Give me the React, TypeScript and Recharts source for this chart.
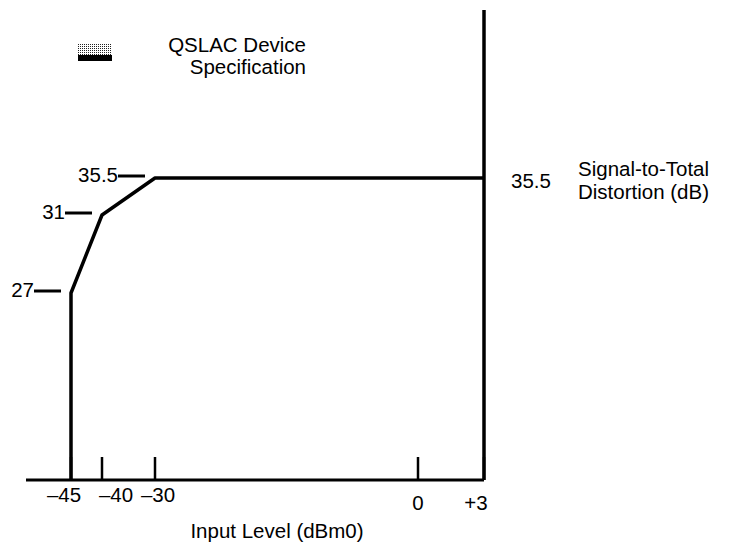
import React from "react"
import { LineChart, Line, XAxis, YAxis, Legend, LabelList } from "recharts"

// input level ticks (dBm0)
const LEVEL_TICKS = [-45, -40, -30, 0, 3]
const LEVEL_TICK_LABELS = ["\u201345", "\u201340", "\u201330", "0", "+3"]

// spec mask: input level vs signal-to-total distortion; the first point drops to the floor
const SPEC_LEVELS = [-45, -45, -40, -30, 3]
const SPEC_STD = [0, 27, 31, 35.5, 35.5]
const STD_TICKS = [35.5]

const LEGEND_LINES = ["QSLAC Device", "Specification"]
const Y_TITLE_LINES = ["Signal-to-Total", "Distortion (dB)"]
const X_TITLE = "Input Level (dBm0)"

// the drawing is not to scale: both axes are piecewise linear between stops
const LEVEL_STOPS = [-45, -40, -30, 0, 3]
const LEVEL_GAPS = [31, 53, 263, 66]
const LEVEL_PAD_LEFT = 45
const STD_STOPS = [0, 27, 31, 35.5]
const STD_GAPS = [187, 78, 37]
const STD_AXIS_TOP = 470

const FONT = '"Liberation Sans", Arial, Helvetica, sans-serif'
const FS = 20.5
const INK = "#000"

function makeWarp(stops: number[], gaps: number[]) {
  const pos = [0]
  gaps.forEach((g, i) => pos.push(pos[i] + g))
  return (v: number) => {
    let i = 0
    while (i < stops.length - 2 && v > stops[i + 1]) i++
    const t = (v - stops[i]) / (stops[i + 1] - stops[i])
    return pos[i] + t * (pos[i + 1] - pos[i])
  }
}

const warpLevel = makeWarp(LEVEL_STOPS, LEVEL_GAPS)
const warpStd = makeWarp(STD_STOPS, STD_GAPS)

const data = SPEC_LEVELS.map((level, i) => ({
  level,
  std: SPEC_STD[i],
  x: warpLevel(level),
  y: warpStd(SPEC_STD[i]),
}))

// label nudges under the x axis [dx, dy]
const TICK_NUDGE = [
  [-7, 22],
  [14, 22],
  [3, 22],
  [0, 30],
  [-8, 30],
]

function XTick(props: any) {
  const { x, y, index } = props
  const [dx, dy] = TICK_NUDGE[index] || [0, 22]
  return (
    <g>
      <line x1={x} x2={x} y1={y} y2={y - 23} stroke={INK} strokeWidth={2.5} />
      <text x={x + dx} y={y + dy} textAnchor="middle" fontFamily={FONT} fontSize={FS} fill={INK}>
        {LEVEL_TICK_LABELS[index]}
      </text>
    </g>
  )
}

function YTick(props: any) {
  const { x, y } = props
  return (
    <g>
      <text x={x + 27} y={y + 10} fontFamily={FONT} fontSize={FS} fill={INK}>
        35.5
      </text>
      <text x={x + 94} y={y - 2} fontFamily={FONT} fontSize={FS} fill={INK}>
        {Y_TITLE_LINES[0]}
      </text>
      <text x={x + 94} y={y + 21} fontFamily={FONT} fontSize={FS} fill={INK}>
        {Y_TITLE_LINES[1]}
      </text>
    </g>
  )
}

function PointLabel(props: any) {
  const { x, y, index, value } = props
  if (index === 0 || index === data.length - 1) return null
  return (
    <g>
      <line x1={x - 37} x2={x - 10} y1={y - 2} y2={y - 2} stroke={INK} strokeWidth={3} />
      <text x={x - 37} y={y + 4} textAnchor="end" fontFamily={FONT} fontSize={FS} fill={INK}>
        {value}
      </text>
    </g>
  )
}

function XTitle(props: any) {
  const { viewBox } = props
  return (
    <text
      x={viewBox.x + viewBox.width / 2 + 22}
      y={viewBox.y + 58}
      textAnchor="middle"
      fontFamily={FONT}
      fontSize={FS}
      fill={INK}
    >
      {X_TITLE}
    </text>
  )
}

function SpecLegend() {
  return (
    <svg width={330} height={80}>
      <defs>
        <pattern id="specDots" width={2} height={2} patternUnits="userSpaceOnUse">
          <rect width={1} height={1} fill="#222" />
        </pattern>
      </defs>
      <rect x={78} y={44} width={34} height={11} fill="url(#specDots)" />
      <rect x={78} y={55} width={34} height={6} fill={INK} />
      <text x={306} y={52} textAnchor="end" fontFamily={FONT} fontSize={FS} fill={INK}>
        {LEGEND_LINES[0]}
      </text>
      <text x={306} y={74} textAnchor="end" fontFamily={FONT} fontSize={FS} fill={INK}>
        {LEGEND_LINES[1]}
      </text>
    </svg>
  )
}

export default function App() {
  return (
    <div style={{ position: "absolute", left: 0, top: 0, background: "#fff" }}>
      <LineChart
        width={737}
        height={551}
        data={data}
        margin={{ top: 10, right: 193, left: 26, bottom: 11 }}
      >
        <XAxis
          type="number"
          dataKey="x"
          domain={[warpLevel(LEVEL_STOPS[0]) - LEVEL_PAD_LEFT, warpLevel(LEVEL_STOPS[LEVEL_STOPS.length - 1])]}
          ticks={LEVEL_TICKS.map(warpLevel)}
          interval={0}
          height={60}
          axisLine={{ stroke: INK, strokeWidth: 3 }}
          tickLine={false}
          tickSize={0}
          tickMargin={0}
          tick={XTick}
          label={{ content: XTitle }}
        />
        <YAxis
          type="number"
          orientation="right"
          dataKey="y"
          domain={[0, STD_AXIS_TOP]}
          ticks={STD_TICKS.map(warpStd)}
          interval={0}
          width={60}
          axisLine={{ stroke: INK, strokeWidth: 3.5 }}
          tickLine={false}
          tickSize={0}
          tickMargin={0}
          tick={YTick}
        />
        <Legend
          verticalAlign="middle"
          align="center"
          wrapperStyle={{ left: 0, top: 0, width: 330, height: 80 }}
          content={SpecLegend}
        />
        <Line
          type="linear"
          dataKey="y"
          name="QSLAC Device Specification"
          stroke={INK}
          strokeWidth={3.5}
          strokeLinejoin="round"
          dot={false}
          isAnimationActive={false}
        >
          <LabelList dataKey="std" content={PointLabel} />
        </Line>
      </LineChart>
    </div>
  )
}
